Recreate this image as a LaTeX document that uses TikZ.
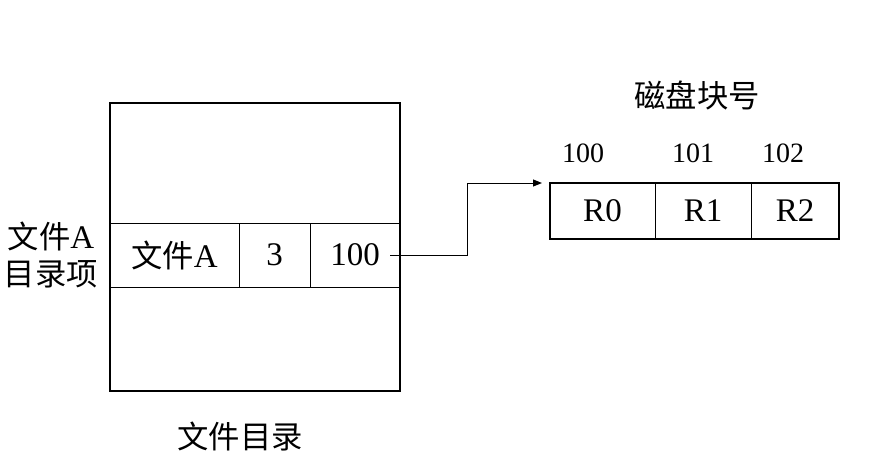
\documentclass[tikz,border=0pt]{standalone}
\usepackage{fontspec}
\setmainfont{Liberation Serif}
\newfontfamily\cjk[Scale = 0.95]{Noto Sans CJK SC}
\newcommand{\zh}[1]{{\cjk #1}}
\usetikzlibrary{
  positioning,
  arrows.meta,
  calc
}

\begin{document}
\begin{tikzpicture}[
    x = 1pt, y = -1pt,
    % Text.
    every node/.style = {
      font = \fontsize{33}{37}\selectfont,
      inner sep = 0pt,
      outer sep = 0pt
    },
    num/.style = {
      font = \fontsize{28}{32}\selectfont
    },
    % Cells.
    cell/.style = {
      draw,
      line width = 1pt,
      minimum height = 64pt
    },
    block/.style = {
      draw,
      line width = 1pt,
      minimum height = 56pt
    },
    % Frames.
    frame/.style = {
      draw,
      line width = 2.8pt
    },
    % Link style.
    link/.style = {
      -{Triangle[length = 9pt, width = 7pt]},
      line width = 1pt
    }
  ]
  \useasboundingbox (0,0) rectangle (895,464);

  % Directory entry.
  \node[cell, minimum width = 129pt] (name) at (174.5,255) {\zh{文件}A};
  \node[cell, minimum width = 71pt, right = 0pt of name] (size) {3};
  \node[cell, minimum width = 90pt, right = 0pt of size] (addr) {100};

  % Directory frame.
  \node[frame, minimum width = 290pt, minimum height = 288pt] (dir) at (255,247) {};
  \node (dirlabel) at (240,437) {\zh{文件目录}};
  \node[align = center] (entry) at (51,255) {\zh{文件}A\\\zh{目录项}};

  % Disk blocks.
  \node[block, minimum width = 105pt] (r0) at (602.5,211) {R0};
  \node[block, minimum width = 96pt, right = 0pt of r0] (r1) {R1};
  \node[block, minimum width = 88pt, right = 0pt of r1] (r2) {R2};
  \draw[line width = 2.8pt] (r0.north west) rectangle (r2.south east);

  % Block numbers.
  \node[num] (n0) at (583,153) {100};
  \node[num] (n1) at (693,153) {101};
  \node[num] (n2) at (783,153) {102};
  \node (disklabel) at (697,95) {\zh{磁盘块号}};

  % Pointer.
  \draw[link] ([xshift = -10pt]addr.east) -- ++(77,0) |- ([xshift = -8pt]r0.north west);
\end{tikzpicture}
\end{document}
